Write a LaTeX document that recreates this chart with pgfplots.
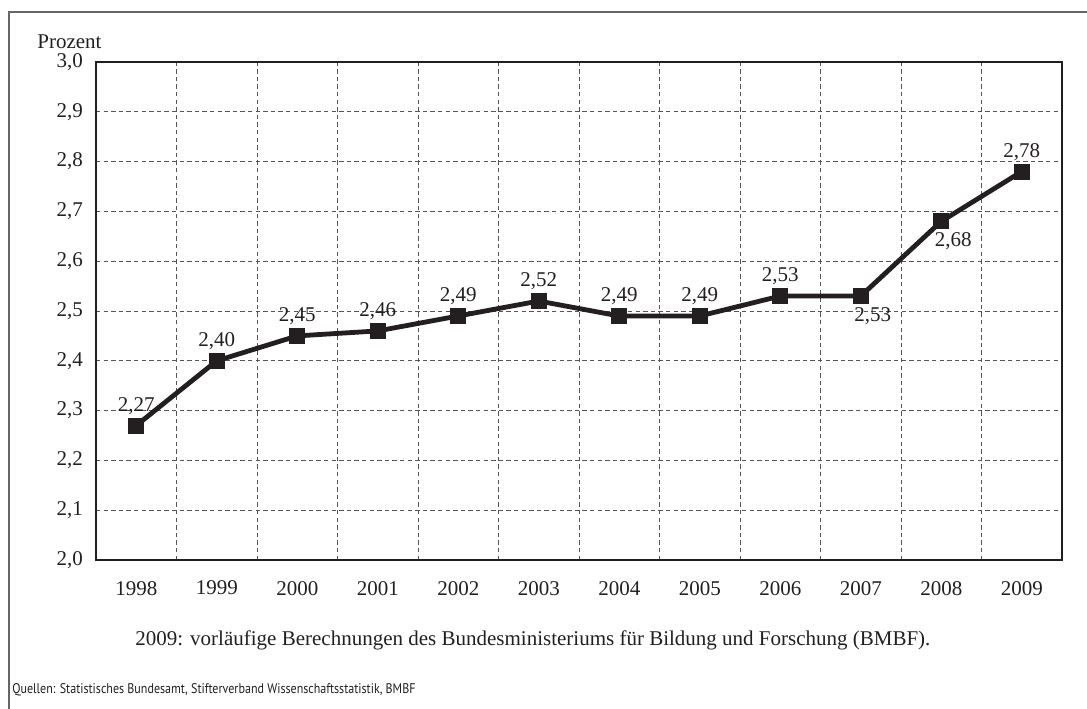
\documentclass[border=0pt]{standalone}
\usepackage{pgfplots}
\pgfplotsset{compat=1.18}
\usepackage{fontspec}
\setmainfont{Liberation Serif}
\newfontfamily\footfont{PT Sans}
\definecolor{ink}{HTML}{231F20}
\definecolor{gridc}{HTML}{555555}
\begin{document}
\begin{tikzpicture}
\useasboundingbox (-48pt,-74pt) rectangle (495.5pt,280pt);
\draw[color=gray!80!black, line width=0.9pt] (-43.5pt,-90pt) -- (-43.5pt,274pt) -- (510pt,274pt);
\begin{axis}[
  at={(0,0)}, anchor=south west,
  scale only axis, width=483pt, height=249pt,
  xmin=-0.5, xmax=11.5, ymin=2.0, ymax=3.0,
  xtick={0,...,11},
  xticklabels={1998,1999,2000,2001,2002,2003,2004,2005,2006,2007,2008,2009},
  minor xtick={0.5,1.5,...,10.5},
  ytick={2.0,2.1,...,3.01},
  major tick length=0pt, minor tick length=0pt,
  xminorgrids, ymajorgrids,
  grid style={color=gridc, line width=0.5pt, dash pattern=on 2.2pt off 1.6pt},
  minor grid style={color=gridc, line width=0.5pt, dash pattern=on 2.2pt off 1.6pt},
  axis line style={color=ink, line width=0.8pt},
  tick label style={font=\fontsize{10.5}{12}\selectfont, color=ink},
  yticklabel style={xshift=-3pt, /pgf/number format/.cd, use comma, fixed, fixed zerofill, precision=1, assume math mode=true},
  xticklabel style={yshift=-7pt},
  clip=false,
]
\addplot[color=ink, line width=2.4pt, mark=square*, mark size=2.8pt, mark options={solid}] coordinates {
(0,2.27) (1,2.40) (2,2.45) (3,2.46) (4,2.49) (5,2.52) (6,2.49) (7,2.49) (8,2.53) (9,2.53) (10,2.68) (11,2.78)};
\addplot[only marks, mark=none, nodes near coords, point meta=y,
  nodes near coords style={font=\fontsize{10.5}{12}\selectfont, color=ink, anchor=south, yshift=2pt,
   /pgf/number format/.cd, use comma, fixed, fixed zerofill, precision=2, assume math mode=true}] coordinates {
(0,2.27) (1,2.40) (2,2.45) (3,2.46) (4,2.49) (5,2.52) (6,2.49) (7,2.49) (8,2.53) (11,2.78)};
\addplot[only marks, mark=none, nodes near coords, point meta=y,
  nodes near coords style={font=\fontsize{10.5}{12}\selectfont, color=ink, anchor=north, yshift=-2pt, xshift=6pt,
   /pgf/number format/.cd, use comma, fixed, fixed zerofill, precision=2, assume math mode=true}] coordinates {
(9,2.53) (10,2.68)};
\end{axis}
\node[anchor=west, inner sep=0pt, font=\fontsize{10.5}{12}\selectfont, color=ink] at (-29.5pt,259pt) {Prozent};
\node[anchor=west, inner sep=0pt, font=\fontsize{10.5}{12}\selectfont, color=ink] at (19.5pt,-40pt) {2009: vorläufige Berechnungen des Bundesministeriums für Bildung und Forschung (BMBF).};
\node[anchor=west, font=\footfont\fontsize{7}{8}\selectfont, color=ink, xscale=0.86, inner sep=0pt] at (-42pt,-65pt) {Quellen: Statistisches Bundesamt, Stifterverband Wissenschaftsstatistik, BMBF};
\end{tikzpicture}
\end{document}
